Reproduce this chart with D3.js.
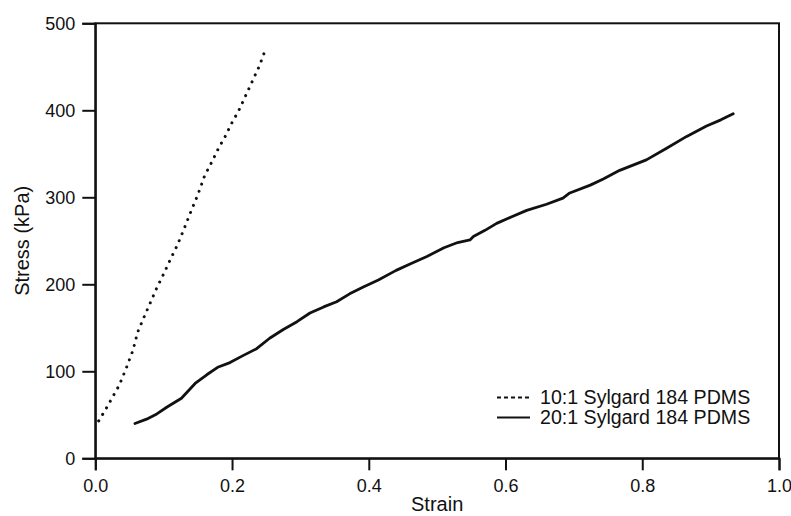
<!DOCTYPE html>
<html>
<head>
<meta charset="utf-8">
<script src="https://cdn.jsdelivr.net/npm/d3@7"></script>
<style>
  html, body { margin: 0; padding: 0; background: #fff; }
  svg { display: block; }
  text { font-family: "Liberation Sans", Arial, Helvetica, sans-serif; fill: #111; }
</style>
</head>
<body>
<svg id="chart" width="791" height="516"></svg>
<script>
// Stress–strain curves for two PDMS mixing ratios
const strain10 = [0.005, 0.015, 0.025, 0.035, 0.045, 0.055, 0.062, 0.070, 0.080, 0.090, 0.100, 0.110, 0.120, 0.130, 0.140, 0.150, 0.160, 0.170, 0.180, 0.190, 0.200, 0.210, 0.220, 0.230, 0.240, 0.248];
const stress10 = [43, 56, 70, 84, 103, 124, 145, 160, 178, 196, 212, 229, 245, 264, 284, 303, 325, 340, 356, 370, 386, 400, 417, 434, 451, 468];

const strain20 = [0.058, 0.075, 0.090, 0.105, 0.126, 0.146, 0.163, 0.180, 0.197, 0.216, 0.236, 0.255, 0.275, 0.295, 0.314, 0.334, 0.353, 0.372, 0.392, 0.414, 0.440, 0.462, 0.485, 0.510, 0.530, 0.548, 0.553, 0.570, 0.587, 0.610, 0.631, 0.660, 0.684, 0.694, 0.724, 0.743, 0.767, 0.806, 0.835, 0.865, 0.894, 0.915, 0.933];
const stress20 = [40, 45, 51, 59, 69, 86, 96, 105, 110, 118, 126, 138, 148, 157, 167, 174, 180, 189, 197, 205, 216, 224, 232, 242, 248, 251, 255, 262, 270, 278, 285, 292, 299, 305, 314, 321, 331, 343, 356, 370, 382, 389, 396];

const seriesNames = ["10:1 Sylgard 184 PDMS", "20:1 Sylgard 184 PDMS"];
const xTicks = [0, 0.2, 0.4, 0.6, 0.8, 1.0];
const yTicks = [0, 100, 200, 300, 400, 500];

const margin = { left: 95.3, right: 12, top: 23.3, bottom: 57.7 };
const W = 791, H = 516;
const svg = d3.select("#chart");

const x = d3.scaleLinear().domain([0, 1]).range([margin.left, W - margin.right]);
const y = d3.scaleLinear().domain([0, 500]).range([H - margin.bottom, margin.top]);

// Frame
svg.append("rect")
  .attr("x", x(0)).attr("y", y(500))
  .attr("width", x(1) - x(0)).attr("height", y(0) - y(500))
  .attr("fill", "none").attr("stroke", "#111").attr("stroke-width", 2);

// Axes
const xAxis = svg.append("g")
  .attr("transform", `translate(0,${y(0)})`)
  .call(d3.axisBottom(x).tickValues(xTicks).tickFormat(d3.format(".1f")).tickSize(12).tickPadding(9));
const yAxis = svg.append("g")
  .attr("transform", `translate(${x(0)},0)`)
  .call(d3.axisLeft(y).tickValues(yTicks).tickFormat(d3.format("d")).tickSize(13).tickPadding(7));

[xAxis, yAxis].forEach(g => {
  g.attr("font-size", null).attr("font-family", null);
  g.select(".domain").attr("stroke", "#111").attr("stroke-width", 2);
  g.selectAll(".tick line").attr("stroke", "#111").attr("stroke-width", 2);
  g.selectAll(".tick text").attr("font-size", 18).attr("fill", "#111");
});

// Axis titles
svg.append("text")
  .attr("x", (x(0) + x(1)) / 2).attr("y", 511)
  .attr("text-anchor", "middle").attr("font-size", 20)
  .text("Strain");
svg.append("text")
  .attr("transform", `translate(29,${(y(0) + y(500)) / 2}) rotate(-90)`)
  .attr("text-anchor", "middle").attr("font-size", 20)
  .text("Stress (kPa)");

// Curves
const line = d3.line().x(d => x(d[0])).y(d => y(d[1])).curve(d3.curveLinear);
const data10 = strain10.map((s, i) => [s, stress10[i]]);
const data20 = strain20.map((s, i) => [s, stress20[i]]);

svg.append("path").datum(data10)
  .attr("d", line)
  .attr("fill", "none").attr("stroke", "#111")
  .attr("stroke-width", 3).attr("stroke-linecap", "round")
  .attr("stroke-dasharray", "0.01 7.6");

svg.append("path").datum(data20)
  .attr("d", line)
  .attr("fill", "none").attr("stroke", "#111")
  .attr("stroke-width", 2.8).attr("stroke-linejoin", "round").attr("stroke-linecap", "round");

// Legend
const legend = svg.append("g");
const legendRows = [
  { name: seriesNames[0], dash: "4 3", width: 1.8, y: 397.5 },
  { name: seriesNames[1], dash: null, width: 2.2, y: 417.5 }
];
legendRows.forEach(r => {
  legend.append("line")
    .attr("x1", 497).attr("x2", 530).attr("y1", r.y).attr("y2", r.y)
    .attr("stroke", "#111").attr("stroke-width", r.width)
    .attr("stroke-dasharray", r.dash);
  legend.append("text")
    .attr("x", 540).attr("y", r.y + 6.5)
    .attr("font-size", 19.6)
    .text(r.name);
});
</script>
</body>
</html>
